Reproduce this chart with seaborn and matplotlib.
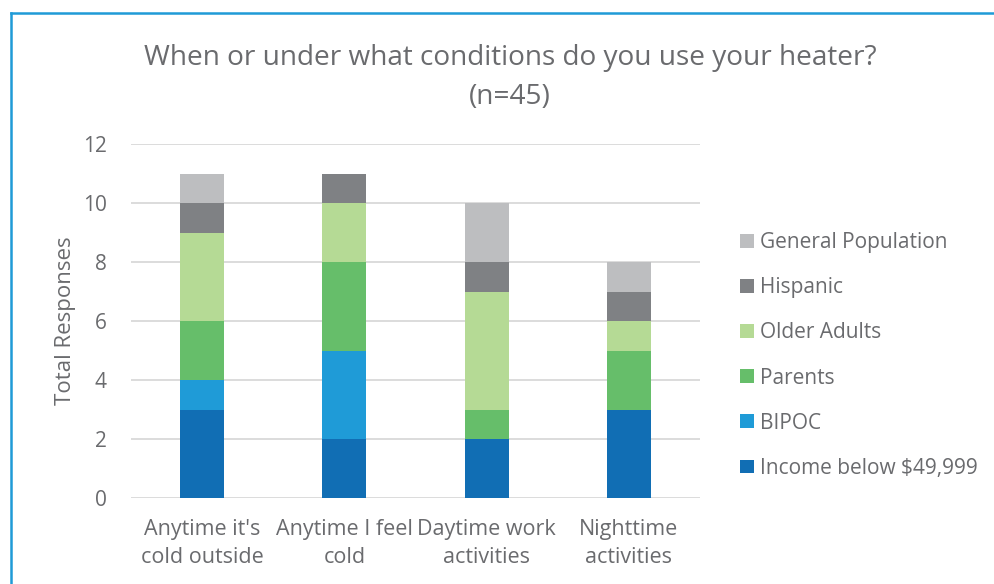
import matplotlib
matplotlib.use("Agg")
import matplotlib.pyplot as plt
from matplotlib.lines import Line2D
from matplotlib.patches import Patch
import numpy as np
import pandas as pd
import seaborn as sns

# ---- data -------------------------------------------------------------
categories = ["Anytime it's\ncold outside", "Anytime I feel\ncold",
              "Daytime work\nactivities", "Nighttime\nactivities"]
groups = ["Income below $49,999", "BIPOC", "Parents", "Older Adults",
          "Hispanic", "General Population"]
income = [3, 2, 2, 3]
bipoc = [1, 3, 0, 0]
parents = [2, 3, 1, 2]
older_adults = [3, 2, 4, 1]
hispanic = [1, 1, 1, 1]
general_population = [1, 0, 2, 1]
colors = ["#116EB4", "#1F9BD7", "#66BE6A", "#B5DA95", "#7F8184", "#BDBEC0"]
yticks = [0, 2, 4, 6, 8, 10, 12]

series = [income, bipoc, parents, older_adults, hispanic, general_population]
df = pd.DataFrame({g: s for g, s in zip(groups, series)})
df["category"] = categories
cum = df[groups].cumsum(axis=1)

text_color = "#6A6B6E"
sns.set_theme(style="white")
plt.rcParams["font.family"] = ["Open Sans", "DejaVu Sans"]

fig = plt.figure(figsize=(9.95, 5.84), dpi=100)
ax = fig.add_axes([131 / 995, 1 - 498 / 584, (700 - 131) / 995, (498 - 144.3) / 584])

# stacked bars: draw cumulative totals from the top segment down
for g, c in reversed(list(zip(groups, colors))):
    sns.barplot(x=df["category"], y=cum[g], color=c, width=0.31,
                saturation=1, ax=ax, zorder=3, linewidth=0, errorbar=None)

ax.set_ylim(0, 12)
ax.set_xlim(-0.5, 3.5)
ax.set_yticks(yticks)
ax.yaxis.grid(True, color="#D9D9D9", linewidth=1.3, zorder=0)
ax.set_axisbelow(True)
for s in ax.spines.values():
    s.set_visible(False)
ax.tick_params(axis="y", length=0, pad=17.5, labelsize=15, labelcolor=text_color)
ax.tick_params(axis="x", length=0, pad=15, labelsize=15.5, labelcolor=text_color)
ax.set_xlabel("")
ax.set_ylabel("Total Responses", fontsize=16, color=text_color, labelpad=5)
for lab in ax.get_xticklabels():
    lab.set_linespacing(1.45)

# title
fig.text(510 / 995, 1 - 58 / 584, "When or under what conditions do you use your heater?",
         ha="center", va="center", fontsize=20.2, color=text_color)
fig.text(510 / 995, 1 - 97 / 584, "(n=45)",
         ha="center", va="center", fontsize=20.2, color=text_color)

# legend, top entry is the last stacked group
handles = [Patch(facecolor=c, edgecolor="none") for c in colors][::-1]
fig.legend(handles, groups[::-1], loc="upper left",
           bbox_to_anchor=(740 / 995, 1 - 232 / 584), frameon=False,
           fontsize=15, labelcolor=text_color, handlelength=0.65,
           handleheight=0.65, handletextpad=0.3, labelspacing=1.16,
           borderaxespad=0, borderpad=0)

# frame around the chart area
fig.add_artist(Line2D([11 / 995, 11 / 995], [0, 1 - 13 / 584],
                      color="#1F9BD7", linewidth=1.8, solid_capstyle="projecting"))
fig.add_artist(Line2D([11 / 995, 1], [1 - 13 / 584, 1 - 13 / 584],
                      color="#1F9BD7", linewidth=1.8, solid_capstyle="projecting"))

fig.savefig("out.png", dpi=100, facecolor="white")
